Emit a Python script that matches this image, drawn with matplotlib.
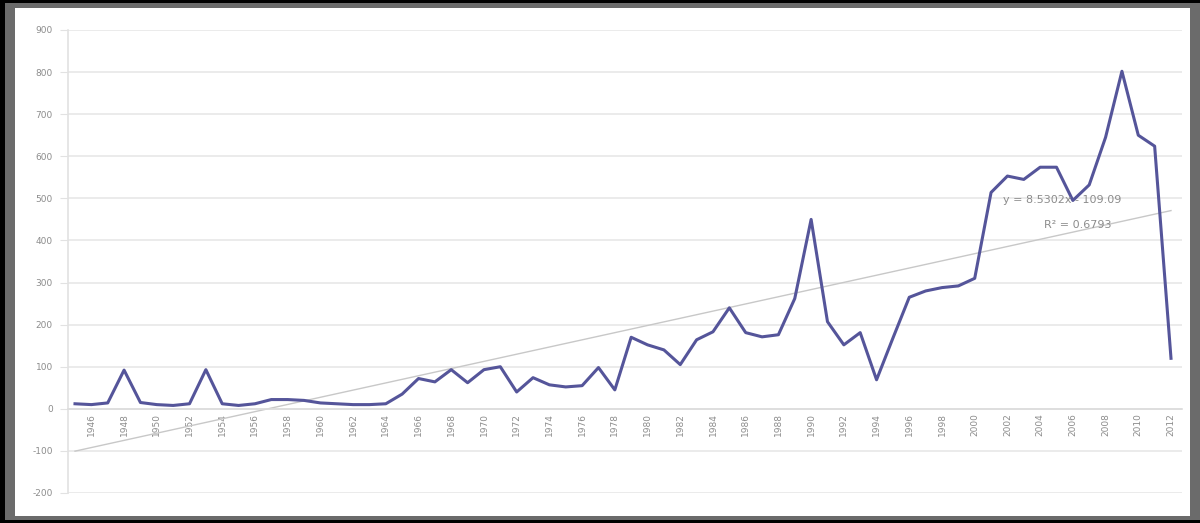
import numpy as np
import matplotlib
matplotlib.use('Agg')
import matplotlib.pyplot as plt
from matplotlib.patches import Rectangle

# yearly counts
years = list(range(1945, 2013))
counts = [12, 10, 14, 92, 15, 10, 8, 12, 93, 12,
          8, 12, 22, 22, 20, 14, 12, 10, 10, 12,
          35, 72, 64, 93, 62, 93, 100, 40, 74, 57,
          52, 55, 98, 45, 170, 152, 140, 105, 164, 183,
          240, 181, 171, 176, 262, 450, 207, 152, 181, 69,
          168, 265, 280, 288, 292, 310, 514, 553, 545, 574,
          574, 495, 532, 645, 802, 650, 624, 120]
y_ticks = list(range(-200, 901, 100))

W, H = 1200, 523
fig = plt.figure(figsize=(W / 100, H / 100), dpi=100)
fig.patch.set_facecolor('white')


def box(x0, y0, x1, y1, color):
    # pixel coords, measured from the top left
    fig.patches.append(Rectangle((x0 / W, 1 - y1 / H), (x1 - x0) / W, (y1 - y0) / H,
                                 transform=fig.transFigure, facecolor=color,
                                 edgecolor='none', zorder=-10))


# screenshot frame
box(0, 0, 1200, 523, '#000000')
box(5, 3, 1200, 520, '#6b6b6b')
box(15, 8, 1190, 516, '#ffffff')

ax = fig.add_axes([68 / W, 1 - 493 / H, (1182 - 68) / W, (493 - 30) / H])
ax.patch.set_alpha(0)

x = np.arange(1, len(counts) + 1)
ax.plot(x, counts, color='#55559a', lw=2.2, solid_joinstyle='round', zorder=3)

# linear trendline, as Excel draws it
a, b = np.polyfit(x, counts, 1)
r2 = np.corrcoef(x, counts)[0, 1] ** 2
ends = x[[0, -1]]
ax.plot(ends, a * ends + b, color='#c8c8c8', lw=1, zorder=2)

step = 16.36
ax.set_xlim(1 - 7 / step, len(counts) + 11 / step)
ax.set_ylim(-200, 900)
ax.set_yticks(y_ticks)
ax.set_yticklabels([str(v) for v in y_ticks])
ax.set_xticks(x[1::2])
ax.set_xticklabels([str(v) for v in years[1::2]])

ax.yaxis.grid(True, color='#e8e8e8', lw=1.2)
ax.set_axisbelow(True)
for s in ['top', 'right']:
    ax.spines[s].set_visible(False)
ax.spines['left'].set_color('#e2e2e2')
ax.spines['left'].set_linewidth(1.2)
ax.spines['bottom'].set_position(('data', 0))
ax.spines['bottom'].set_color('#dcdcdc')
ax.spines['bottom'].set_linewidth(1.2)

ax.tick_params(axis='y', length=6, color='#e2e2e2', labelsize=6.5,
               labelcolor='#8c8c8c', pad=5)
ax.tick_params(axis='x', length=0, labelsize=6.5, labelcolor='#8c8c8c',
               pad=3, labelrotation=90)

sign = '-' if b < 0 else '+'
fig.text(1062 / W, 1 - 200 / H, f'y = {a:.4f}x {sign} {abs(b):.2f}',
         ha='center', va='center', fontsize=8, color='#8c8c8c')
fig.text(1078 / W, 1 - 225 / H, f'R² = {r2:.4f}',
         ha='center', va='center', fontsize=8, color='#8c8c8c')

fig.savefig('out.png', dpi=100)
